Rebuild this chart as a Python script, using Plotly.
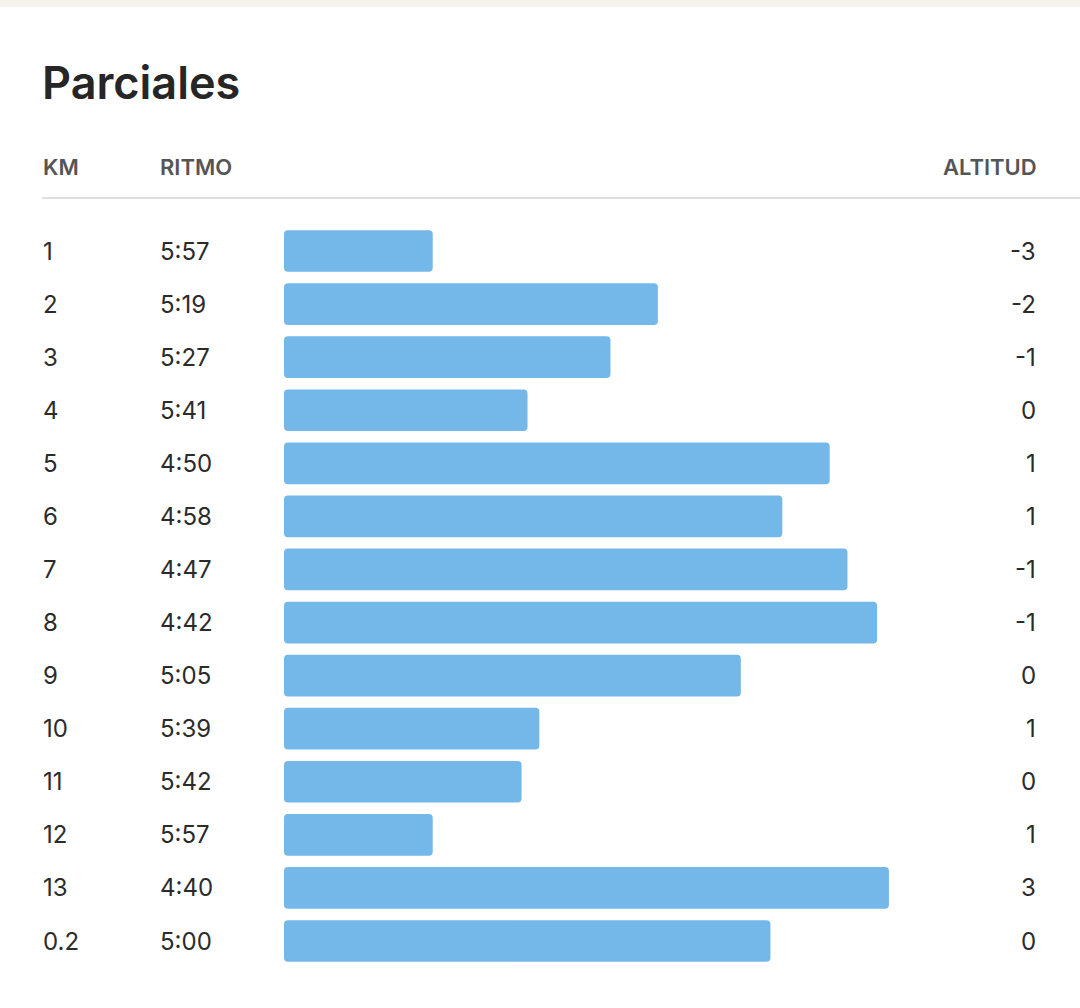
import plotly.graph_objects as go

# ---- data ----
km_labels = ["1", "2", "3", "4", "5", "6", "7", "8", "9", "10", "11", "12", "13", "0.2"]
pace_labels = ["5:57", "5:19", "5:27", "5:41", "4:50", "4:58", "4:47", "4:42",
               "5:05", "5:39", "5:42", "5:57", "4:40", "5:00"]
altitude = [-3, -2, -1, 0, 1, 1, -1, -1, 0, 1, 0, 1, 3, 0]
title_text = "Parciales"
header_labels = ["KM", "RITMO", "ALTITUD"]

# pace in seconds per km parsed from labels
pace_sec = [int(p.split(":")[0]) * 60 + int(p.split(":")[1]) for p in pace_labels]
ref_pace = 382.1  # slowest reference pace where bars start (axis left edge)

W, H = 1080, 1008
FONT = "Inter"
BAR_COLOR = "#74B8EA"
TXT = "#2b2b2b"
HDR = "#555555"

fig = go.Figure()
fig.add_trace(go.Bar(
    y=km_labels,
    x=[p - ref_pace for p in pace_sec],
    base=ref_pace,
    orientation="h",
    marker=dict(color=BAR_COLOR, line=dict(width=0)),
    hoverinfo="skip",
))

px_per_sec = 5.925
x_left_px = 284
x_range = [ref_pace, ref_pace - (W - x_left_px) / px_per_sec]

row0, row_last = 251.0, 941.0
step = (row_last - row0) / (len(km_labels) - 1)
top_px = row0 - step / 2
bot_px = row_last + step / 2

annotations = []
for i, (k, p, a) in enumerate(zip(km_labels, pace_labels, altitude)):
    # category axes: annotation positions given as category index
    annotations.append(dict(x=41 / W, xref="paper", y=i, yref="y", text=k,
                            xanchor="left", yanchor="middle", showarrow=False,
                            font=dict(family=FONT, size=24, color=TXT)))
    annotations.append(dict(x=157.5 / W, xref="paper", y=i, yref="y", text=p,
                            xanchor="left", yanchor="middle", showarrow=False,
                            font=dict(family=FONT, size=24, color=TXT)))
    annotations.append(dict(x=1038 / W, xref="paper", y=i, yref="y", text=str(a),
                            xanchor="right", yanchor="middle", showarrow=False,
                            font=dict(family=FONT, size=24, color=TXT)))

# title
annotations.append(dict(x=40 / W, xref="paper", y=1 - 82 / H, yref="paper", text=title_text,
                        xanchor="left", yanchor="middle", showarrow=False,
                        font=dict(family=FONT, size=45, color="#262626", weight=600)))
# headers
hdr_x = [(41 / W, "left"), (157.5 / W, "left"), (1039 / W, "right")]
for lab, (hx, anc) in zip(header_labels, hdr_x):
    annotations.append(dict(x=hx, xref="paper", y=1 - 167 / H, yref="paper", text=lab,
                            xanchor=anc, yanchor="middle", showarrow=False,
                            font=dict(family=FONT, size=22, color=HDR, weight=600)))

shapes = [
    dict(type="rect", xref="paper", yref="paper", x0=0, x1=1, y0=1 - 7 / H, y1=1,
         fillcolor="#F5F2EE", line=dict(width=0), layer="below"),
    dict(type="line", xref="paper", yref="paper", x0=42 / W, x1=1, y0=1 - 198 / H, y1=1 - 198 / H,
         line=dict(color="#D4D4D4", width=1.3)),
]

fig.update_layout(
    width=W, height=H,
    margin=dict(l=0, r=0, t=0, b=0),
    paper_bgcolor="white", plot_bgcolor="white",
    showlegend=False,
    bargap=1 - 41.7 / step,
    barcornerradius=4,
    xaxis=dict(domain=[x_left_px / W, 1], range=x_range, visible=False, fixedrange=True),
    yaxis=dict(domain=[1 - bot_px / H, 1 - top_px / H], type="category",
               categoryorder="array", categoryarray=km_labels,
               range=[len(km_labels) - 0.5, -0.5], visible=False, fixedrange=True),
    annotations=annotations,
    shapes=shapes,
)

fig.write_html("out.html")
